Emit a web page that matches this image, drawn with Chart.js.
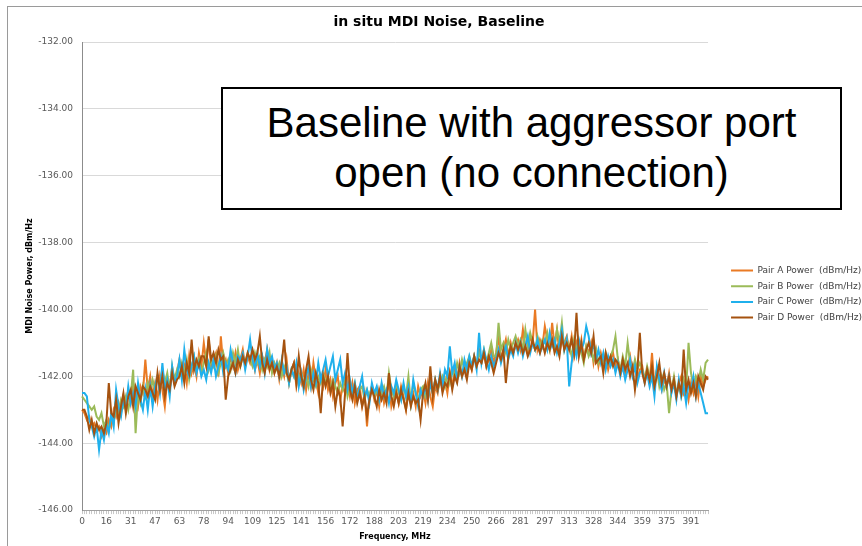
<!DOCTYPE html>
<html>
<head>
<meta charset="utf-8">
<script src="https://cdn.jsdelivr.net/npm/chart.js@4.4.0/dist/chart.umd.min.js"></script>
<style>
  html, body { margin: 0; padding: 0; background: #fff; overflow: hidden; width: 862px; height: 546px; }
  #frame { position: absolute; left: 7px; top: 6px; width: 900px; height: 600px; border: 1px solid #9a9a9a; }
  #chart { position: absolute; left: 0; top: 0; }
  #note {
    position: absolute; left: 221px; top: 87px; width: 621px; height: 123px;
    box-sizing: border-box; border: 2px solid #000; background: #fff;
    padding-top: 9px; text-align: center;
    font-family: "Liberation Sans", Arial, sans-serif; font-size: 42px; line-height: 50px; color: #000;
  }
</style>
</head>
<body>
<div id="frame"></div>
<canvas id="chart" width="867" height="546"></canvas>
<div id="note">Baseline with aggressor port<br>open (no connection)</div>
<script>
// ===============================
// DATA (dBm/Hz, one point every 1.5625 MHz)
// ===============================
const freqStep = 1.5625;
const xTickLabels = ['0','16','31','47','63','78','94','109','125','141','156','172','188',
  '203','219','234','250','266','281','297','313','328','344','359','375','391'];
const seriesNames = ['Pair A Power  (dBm/Hz)', 'Pair B Power  (dBm/Hz)',
  'Pair C Power  (dBm/Hz)', 'Pair D Power  (dBm/Hz)'];
const seriesColors = ['#EA7A24', '#9BBB59', '#1FB0EC', '#A5520F'];

const pairA = [
  -143.0,-143.1,-143.3,-143.2,-143.5,-143.4,-143.6,-143.5,-143.8,-143.6,
  -143.7,-143.3,-143.5,-143.0,-143.2,-142.8,-143.1,-142.6,-142.9,-142.4,
  -142.8,-142.2,-142.6,-142.9,-142.3,-142.5,-141.5,-142.4,-142.0,-142.6,
  -142.2,-142.7,-142.0,-142.4,-142.9,-142.1,-142.3,-141.8,-142.2,-141.9,
  -141.5,-142.0,-141.7,-142.2,-141.4,-141.9,-141.6,-142.0,-141.3,-141.7,
  -141.0,-141.6,-140.9,-141.7,-141.5,-141.3,-142.0,-140.8,-141.7,-141.5,
  -141.9,-141.4,-141.7,-141.3,-141.8,-141.5,-141.2,-141.7,-141.4,-141.6,
  -141.3,-141.8,-141.5,-141.9,-141.4,-141.6,-141.2,-141.8,-141.5,-141.9,
  -141.6,-142.1,-141.7,-142.0,-141.5,-142.2,-141.8,-141.6,-142.3,-141.9,
  -142.2,-141.8,-142.4,-141.9,-142.3,-141.6,-142.1,-142.5,-142.0,-142.3,
  -141.8,-142.4,-142.1,-142.6,-142.2,-142.0,-142.7,-142.3,-142.5,-142.1,
  -142.6,-142.2,-142.8,-142.4,-142.3,-142.9,-142.5,-143.5,-142.6,-142.3,
  -142.7,-142.4,-142.9,-142.3,-142.8,-142.5,-142.2,-142.9,-142.6,-142.4,
  -142.8,-142.3,-142.6,-143.0,-142.4,-142.7,-142.5,-142.9,-142.3,-142.6,
  -142.4,-142.8,-142.2,-142.6,-142.9,-142.3,-142.5,-142.0,-142.4,-142.1,
  -142.5,-141.9,-142.3,-141.8,-142.1,-141.6,-142.0,-141.7,-141.9,-141.5,
  -141.8,-141.4,-141.7,-141.2,-141.6,-141.3,-141.7,-141.5,-141.2,-141.6,
  -141.3,-140.8,-141.5,-141.2,-140.9,-141.4,-141.0,-141.3,-141.1,-140.9,
  -141.2,-140.6,-141.1,-141.3,-140.8,-141.0,-140.0,-141.2,-140.9,-141.1,
  -140.5,-140.9,-141.2,-140.4,-141.1,-140.6,-141.3,-140.9,-141.0,-140.8,
  -141.2,-140.8,-141.4,-141.0,-141.3,-140.9,-141.5,-141.1,-141.3,-141.0,
  -141.6,-141.2,-141.7,-141.3,-141.6,-141.4,-141.8,-141.5,-141.3,-141.7,
  -141.5,-141.9,-141.6,-142.0,-141.7,-141.4,-141.9,-141.6,-142.1,-141.8,
  -141.7,-142.1,-141.8,-142.2,-141.3,-142.3,-141.8,-142.0,-142.4,-142.1,
  -142.3,-141.9,-142.4,-142.1,-142.6,-142.2,-142.0,-142.5,-142.3,-142.7,
  -142.2,-142.5,-142.1,-142.6,-142.0,-142.3,-142.1,-142.0
];

const pairB = [
  -142.6,-142.7,-142.8,-142.9,-143.0,-142.9,-143.2,-143.3,-143.1,-143.5,
  -143.3,-143.6,-143.2,-143.4,-142.9,-143.1,-142.7,-142.9,-142.6,-143.0,
  -142.6,-141.8,-143.7,-142.5,-142.8,-142.3,-142.6,-142.2,-142.5,-142.1,
  -142.4,-142.0,-142.3,-141.8,-142.2,-141.9,-142.4,-141.7,-142.1,-141.8,
  -142.0,-141.6,-141.9,-141.5,-142.1,-141.7,-141.4,-141.8,-141.5,-141.9,
  -141.6,-141.3,-141.8,-141.5,-141.7,-141.4,-141.9,-141.6,-141.3,-141.7,
  -141.5,-141.8,-141.3,-141.6,-141.2,-141.7,-141.4,-141.6,-141.3,-141.5,
  -141.7,-141.3,-141.6,-141.4,-141.8,-141.5,-141.7,-141.3,-141.9,-141.6,
  -141.8,-141.6,-142.0,-141.7,-141.9,-142.2,-141.8,-142.0,-141.7,-142.1,
  -141.9,-142.2,-142.0,-142.3,-141.8,-142.1,-142.3,-142.0,-142.2,-141.9,
  -142.2,-142.0,-142.4,-142.1,-142.3,-142.5,-142.2,-142.4,-142.1,-142.6,
  -142.3,-142.5,-142.2,-142.6,-142.4,-142.3,-142.7,-142.4,-142.6,-142.3,
  -142.6,-142.4,-142.7,-142.5,-142.3,-142.6,-141.9,-142.4,-142.6,-142.2,
  -142.5,-142.7,-142.3,-142.6,-142.0,-142.8,-142.2,-142.5,-142.7,-142.4,
  -142.3,-142.6,-142.4,-142.2,-142.5,-142.1,-142.4,-142.2,-142.0,-142.3,
  -141.9,-142.2,-141.8,-142.0,-141.6,-141.9,-141.5,-141.8,-141.6,-141.4,
  -141.7,-141.4,-141.6,-141.3,-141.5,-141.2,-141.6,-141.3,-141.0,-141.4,
  -141.4,-140.4,-141.2,-141.0,-141.3,-140.9,-141.2,-141.0,-140.8,-141.1,
  -140.9,-141.2,-140.6,-141.1,-140.7,-141.0,-141.2,-140.8,-141.1,-140.9,
  -141.0,-140.7,-141.2,-140.9,-141.1,-140.6,-141.0,-140.4,-141.2,-140.9,
  -141.1,-141.4,-140.9,-141.2,-141.0,-141.3,-141.6,-141.1,-141.4,-141.2,
  -141.5,-141.2,-141.6,-141.4,-141.7,-141.3,-141.6,-141.4,-141.2,-140.8,
  -141.5,-141.8,-141.4,-141.7,-141.0,-141.6,-141.9,-141.5,-141.8,-141.6,
  -141.8,-142.1,-141.7,-142.0,-141.9,-142.2,-141.8,-142.3,-142.0,-142.4,
  -142.2,-143.1,-142.4,-142.0,-142.5,-142.3,-142.6,-142.1,-142.4,-141.0,
  -141.9,-142.3,-142.0,-142.2,-141.8,-142.1,-141.6,-141.5
];

const pairC = [
  -142.5,-142.5,-142.6,-143.3,-143.5,-143.8,-143.5,-144.2,-143.6,-143.9,
  -143.4,-143.7,-143.1,-143.5,-142.4,-142.9,-143.2,-142.7,-143.0,-142.3,
  -142.8,-142.5,-142.9,-142.2,-142.7,-143.0,-142.4,-143.0,-142.3,-142.9,
  -142.3,-142.0,-142.5,-141.6,-142.4,-142.1,-142.6,-141.7,-142.2,-142.0,
  -141.5,-142.1,-141.2,-141.8,-142.0,-141.7,-141.4,-141.9,-141.6,-142.0,
  -141.8,-142.1,-141.6,-141.9,-141.5,-142.0,-141.7,-141.4,-141.9,-141.6,
  -141.8,-141.2,-141.6,-141.9,-141.4,-141.5,-141.3,-141.8,-141.4,-140.9,
  -141.5,-141.8,-141.3,-141.7,-141.4,-141.9,-141.2,-141.6,-141.4,-141.8,
  -141.6,-142.0,-141.5,-141.9,-141.7,-142.2,-141.8,-142.0,-141.6,-142.3,
  -141.9,-142.4,-142.0,-141.7,-142.3,-141.9,-142.2,-141.6,-142.1,-141.8,
  -141.5,-142.0,-141.7,-141.4,-142.1,-141.8,-141.5,-142.2,-141.9,-142.4,
  -142.1,-142.5,-142.2,-142.7,-142.3,-142.0,-142.6,-142.4,-142.8,-142.2,
  -142.5,-142.3,-142.7,-142.2,-142.6,-142.4,-142.8,-142.3,-142.5,-142.1,
  -142.4,-142.7,-142.2,-142.6,-142.3,-142.8,-142.1,-142.5,-142.9,-142.4,
  -142.6,-142.3,-142.7,-142.2,-142.5,-142.1,-142.4,-141.9,-142.3,-141.8,
  -142.0,-141.1,-141.9,-141.6,-142.1,-141.7,-142.0,-141.5,-141.8,-141.4,
  -141.7,-141.4,-141.8,-140.7,-141.6,-141.2,-141.5,-141.8,-141.4,-141.7,
  -141.5,-141.2,-141.6,-141.3,-141.1,-141.5,-141.2,-141.4,-141.0,-141.3,
  -141.0,-141.4,-141.1,-140.8,-141.3,-141.0,-141.2,-140.9,-141.3,-141.1,
  -140.9,-141.2,-140.7,-141.1,-140.9,-141.3,-141.0,-140.6,-141.2,-140.9,
  -142.3,-141.6,-141.1,-141.4,-140.9,-141.2,-141.0,-140.5,-140.8,-141.3,
  -141.0,-141.5,-141.2,-141.6,-141.3,-141.8,-141.4,-141.7,-141.5,-141.9,
  -141.6,-142.0,-141.7,-142.1,-141.8,-141.5,-142.0,-141.7,-142.2,-141.9,
  -141.8,-142.2,-141.9,-142.3,-142.0,-142.6,-141.7,-142.1,-142.4,-141.9,
  -142.3,-142.0,-142.5,-142.2,-142.7,-142.1,-142.6,-142.3,-142.8,-142.2,
  -142.4,-142.0,-142.6,-142.2,-142.5,-142.8,-143.1,-143.1
];

const pairD = [
  -143.0,-143.0,-143.2,-143.6,-143.3,-143.7,-143.4,-143.6,-143.5,-143.7,
  -143.4,-142.2,-143.1,-143.2,-142.7,-143.4,-142.9,-142.5,-143.1,-142.6,
  -142.4,-142.9,-142.3,-142.5,-142.7,-142.3,-142.4,-142.6,-142.3,-142.5,
  -142.7,-141.9,-142.4,-142.0,-142.6,-142.2,-142.4,-141.9,-142.3,-142.1,
  -142.0,-141.7,-142.2,-141.6,-141.9,-140.9,-141.8,-141.5,-141.7,-141.4,
  -141.4,-141.7,-140.8,-141.5,-141.3,-141.6,-141.2,-141.5,-141.4,-142.7,
  -142.0,-141.8,-141.6,-141.9,-141.5,-141.7,-141.4,-141.6,-141.3,-141.5,
  -141.2,-141.5,-141.3,-140.8,-141.6,-141.9,-141.5,-141.8,-141.6,-141.9,
  -141.7,-142.0,-141.6,-140.9,-141.9,-142.1,-141.8,-141.6,-142.2,-141.4,
  -142.0,-142.3,-141.8,-141.4,-142.1,-142.4,-141.9,-142.2,-143.1,-142.0,
  -142.3,-142.0,-142.5,-142.2,-142.9,-142.4,-142.6,-143.5,-142.5,-141.3,
  -142.4,-142.7,-142.3,-142.8,-142.5,-142.9,-142.6,-143.2,-142.7,-142.4,
  -142.6,-142.9,-142.4,-142.7,-142.5,-142.8,-141.9,-142.6,-142.9,-142.5,
  -142.8,-142.4,-142.7,-143.0,-142.5,-142.9,-142.6,-142.8,-142.7,-143.3,
  -142.5,-142.2,-142.7,-141.7,-142.6,-142.1,-142.4,-142.0,-142.5,-142.2,
  -142.3,-141.9,-142.4,-142.0,-142.2,-141.7,-142.0,-141.8,-142.1,-141.6,
  -141.8,-141.4,-141.7,-141.5,-141.6,-141.3,-141.7,-141.4,-141.6,-141.9,
  -141.6,-141.3,-141.5,-141.2,-142.2,-141.4,-141.1,-141.3,-141.0,-141.2,
  -141.0,-141.3,-141.1,-141.4,-141.2,-140.9,-141.2,-141.1,-141.3,-141.0,
  -141.3,-141.0,-141.2,-140.9,-141.3,-141.1,-141.4,-140.8,-141.2,-141.0,
  -141.2,-140.9,-141.3,-140.1,-141.4,-141.0,-141.5,-141.2,-141.0,-141.3,
  -140.8,-141.6,-141.5,-141.4,-141.9,-141.3,-141.6,-141.4,-141.7,-141.5,
  -141.6,-141.9,-141.5,-141.8,-141.6,-142.0,-141.7,-142.4,-141.8,-140.7,
  -141.9,-142.2,-141.8,-142.1,-141.7,-142.3,-142.0,-141.6,-142.2,-141.9,
  -142.3,-142.0,-142.4,-142.1,-142.6,-142.2,-142.5,-141.2,-142.4,-142.1,
  -142.5,-142.2,-142.6,-142.0,-142.2,-142.4,-142.0,-142.1
];

const yMin = -146;
const yMax = -132;

// category labels (frequency in MHz)
const freqLabels = pairA.map((_, i) => (i * freqStep).toFixed(2));

// ===============================
// CHART
// ===============================
Chart.defaults.font.family = '"DejaVu Sans", sans-serif';
Chart.defaults.color = '#595959';

const allSeries = [pairA, pairB, pairC, pairD];

new Chart(document.getElementById('chart').getContext('2d'), {
  type: 'line',
  data: {
    labels: freqLabels,
    datasets: allSeries.map((vals, k) => ({
      label: seriesNames[k],
      data: vals,
      borderColor: seriesColors[k],
      backgroundColor: seriesColors[k],
      borderWidth: 2,
      pointRadius: 0,
      tension: 0,
      fill: false,
      order: 4 - k   // Pair D drawn on top
    }))
  },
  options: {
    responsive: false,
    animation: false,
    layout: { padding: { left: 11, right: 0, top: 0, bottom: 0 } },
    plugins: {
      tooltip: { enabled: false },
      title: {
        display: true,
        text: 'in situ MDI Noise, Baseline',
        color: '#000',
        font: { size: 14, weight: 'bold' },
        padding: { top: 13.6, bottom: 11.6 }
      },
      legend: {
        position: 'right',
        title: { display: true, text: ' ', font: { size: 9 }, padding: { top: 31.3, bottom: 0 } },
        labels: {
          boxWidth: 22,
          boxHeight: 2,
          padding: 6.7,
          color: '#404040',
          font: { size: 9 },
          sort: (a, b) => a.datasetIndex - b.datasetIndex,
          generateLabels: chart => Chart.defaults.plugins.legend.labels.generateLabels(chart)
            .map(item => ({ ...item, fillStyle: item.strokeStyle, lineWidth: 0 }))
        }
      }
    },
    scales: {
      x: {
        type: 'category',
        grid: { drawOnChartArea: false, drawTicks: true, tickLength: 4, color: '#c8c8c8' },
        border: { display: true, color: '#a0a0a0' },
        ticks: {
          autoSkip: false,
          maxRotation: 0,
          minRotation: 0,
          padding: 2,
          font: { size: 9 },
          callback: (val, i) => (i % 10 === 0 && i / 10 < xTickLabels.length ? xTickLabels[i / 10] : '')
        },
        title: {
          display: true,
          text: 'Frequency, MHz',
          color: '#000',
          font: { size: 8, weight: 'bold' },
          padding: { top: 3, bottom: 4.5 }
        }
      },
      y: {
        min: yMin,
        max: yMax,
        ticks: {
          stepSize: 2,
          padding: 9,
          font: { size: 9 },
          callback: v => v.toFixed(2)
        },
        grid: { color: '#d9d9d9', drawTicks: false },
        border: { display: true, color: '#8c8c8c' },
        title: {
          display: true,
          text: 'MDI Noise Power, dBm/Hz',
          color: '#000',
          font: { size: 8, weight: 'bold' },
          padding: { top: 13.7, bottom: 0 }
        },
        afterFit: s => { s.width = 71; }
      },
      // empty spacer between plot and legend
      y2: {
        type: 'linear',
        position: 'right',
        grid: { display: false },
        ticks: { display: false },
        border: { display: false },
        afterFit: s => { s.width = 16.3; }
      }
    }
  }
});
</script>
</body>
</html>
